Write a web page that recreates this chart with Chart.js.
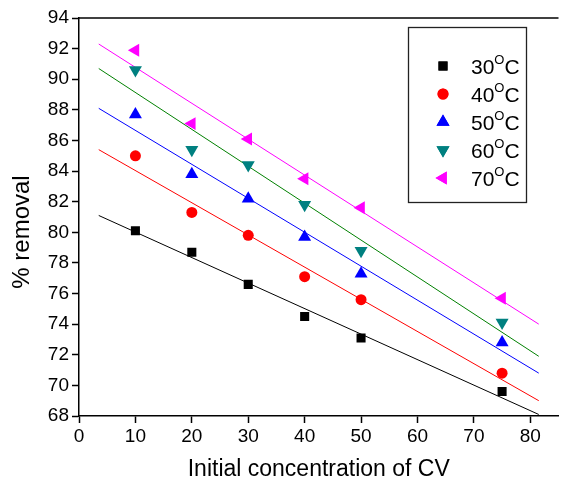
<!DOCTYPE html>
<html>
<head>
<meta charset="utf-8">
<script src="https://cdn.jsdelivr.net/npm/chart.js@4/dist/chart.umd.min.js"></script>
<style>
  html, body { margin: 0; padding: 0; background: #fff; }
  #wrap { width: 566px; height: 483px; }
</style>
</head>
<body>
<div id="wrap"><canvas id="myChart" width="566" height="483"></canvas></div>
<script>
// concentrações iniciais de CV
var concCV = [10, 20, 30, 40, 50, 75];

// % remoção por temperatura
var temps = ['30', '40', '50', '60', '70'];
var rem30 = [80.1, 78.7, 76.6, 74.5, 73.1, 69.6];
var rem40 = [85.0, 81.3, 79.8, 77.1, 75.6, 70.8];
var rem50 = [87.7, 83.8, 82.2, 79.7, 77.3, 72.8];
var rem60 = [90.6, 85.4, 84.4, 81.8, 78.8, 74.1];
var rem70 = [91.9, 87.1, 86.1, 83.5, 81.6, 75.7];

// retas ajustadas (início e fim)
var fitX = [3.5, 81.5];
var fit30 = [81.1, 68.1];
var fit40 = [85.4, 69.0];
var fit50 = [88.1, 70.8];
var fit60 = [90.7, 71.9];
var fit70 = [92.3, 74.0];

var yTicks = [68, 70, 72, 74, 76, 78, 80, 82, 84, 86, 88, 90, 92, 94];
var xTicks = [0, 10, 20, 30, 40, 50, 60, 70, 80];

var FONT = "'Liberation Sans', Arial, sans-serif";

function pts(xs, ys) {
  return xs.map(function (x, i) { return { x: x, y: ys[i] }; });
}

// estilo dos marcadores de cada série
var markers = [
  { data: rem30, fit: fit30, color: '#000000', line: '#000000', style: 'rect', radius: 6.4, rot: 0 },
  { data: rem40, fit: fit40, color: '#ff0000', line: '#ff0000', style: 'circle', radius: 5.5, rot: 0 },
  { data: rem50, fit: fit50, color: '#0000ff', line: '#0000ff', style: 'triangle', radius: 7.5, rot: 0 },
  { data: rem60, fit: fit60, color: '#008080', line: '#008000', style: 'triangle', radius: 7.5, rot: 180 },
  { data: rem70, fit: fit70, color: '#ff00ff', line: '#ff00ff', style: 'triangle', radius: 7.5, rot: 270 }
];

var datasets = [];
markers.forEach(function (m, i) {
  datasets.push({
    label: temps[i] + ' fit',
    data: pts(fitX, m.fit),
    showLine: true,
    borderColor: m.line,
    borderWidth: 1,
    pointRadius: 0,
    order: 2
  });
});
markers.forEach(function (m, i) {
  datasets.push({
    label: temps[i] + 'OC',
    data: pts(concCV, m.data),
    showLine: false,
    pointStyle: m.style,
    pointRadius: m.radius,
    pointRotation: m.rot,
    backgroundColor: m.color,
    borderColor: m.color,
    borderWidth: 0,
    order: 1
  });
});

// caixa da legenda com o "O" sobrescrito, título do eixo y e linha superior do quadro
var extras = {
  id: 'extras',
  afterDraw: function (chart) {
    var ctx = chart.ctx;
    var area = chart.chartArea;
    ctx.save();
    ctx.strokeStyle = '#000';
    ctx.lineWidth = 1.5;
    ctx.beginPath();
    ctx.moveTo(area.left, area.top);
    ctx.lineTo(area.right, area.top);
    ctx.stroke();

    // título do eixo y
    ctx.save();
    ctx.translate(22, 232);
    ctx.rotate(-Math.PI / 2);
    ctx.fillStyle = '#000';
    ctx.font = '24px ' + FONT;
    ctx.textAlign = 'center';
    ctx.textBaseline = 'middle';
    ctx.fillText('% removal', 0, 0);
    ctx.restore();

    // legenda
    ctx.lineWidth = 1.3;
    ctx.strokeStyle = '#222';
    ctx.strokeRect(408.5, 27.5, 118, 175);
    var rowsY = [66, 94, 122, 150, 178];
    markers.forEach(function (m, i) {
      var y = rowsY[i];
      ctx.fillStyle = m.color;
      ctx.strokeStyle = m.color;
      ctx.lineWidth = 0;
      Chart.helpers.drawPoint(ctx, { pointStyle: m.style, radius: m.radius, rotation: m.rot, borderWidth: 0 }, 443, y);
      ctx.fill();
      ctx.fillStyle = '#000';
      ctx.textBaseline = 'alphabetic';
      ctx.textAlign = 'left';
      ctx.font = '21px ' + FONT;
      var x = 471;
      ctx.fillText(temps[i], x, y + 7.5);
      x += ctx.measureText(temps[i]).width;
      ctx.font = '13px ' + FONT;
      ctx.fillText('O', x, y - 2);
      x += ctx.measureText('O').width;
      ctx.font = '21px ' + FONT;
      ctx.fillText('C', x, y + 7.5);
    });
    ctx.restore();
  }
};

var ctx = document.getElementById('myChart').getContext('2d');
var myChart = new Chart(ctx, {
  type: 'scatter',
  data: { datasets: datasets },
  plugins: [extras],
  options: {
    responsive: false,
    animation: false,
    layout: { padding: { top: 18, right: 0, left: 0, bottom: 0 } },
    plugins: {
      legend: { display: false },
      tooltip: { enabled: false }
    },
    scales: {
      x: {
        type: 'linear',
        min: 0,
        max: 85,
        afterBuildTicks: function (scale) {
          scale.ticks = xTicks.map(function (v) { return { value: v }; });
        },
        afterFit: function (scale) { scale.height = 67; },
        grid: { drawOnChartArea: false, drawTicks: true, tickLength: 7, tickWidth: 1.5, color: '#000' },
        border: { display: true, color: '#000', width: 1.5 },
        ticks: { color: '#000', font: { family: FONT, size: 19 }, padding: 2, maxRotation: 0 },
        title: { display: true, text: 'Initial concentration of CV', color: '#000', font: { family: FONT, size: 23 }, padding: { top: 4, bottom: 0 } }
      },
      y: {
        type: 'linear',
        min: 68,
        max: 94,
        afterBuildTicks: function (scale) {
          scale.ticks = yTicks.map(function (v) { return { value: v }; });
        },
        afterFit: function (scale) { scale.width = 79; },
        grid: { drawOnChartArea: false, drawTicks: true, tickLength: 7, tickWidth: 1.5, color: '#000' },
        border: { display: true, color: '#000', width: 1.5 },
        ticks: { color: '#000', font: { family: FONT, size: 19 }, padding: 3 },
        title: { display: false }
      }
    }
  }
});
</script>
</body>
</html>
